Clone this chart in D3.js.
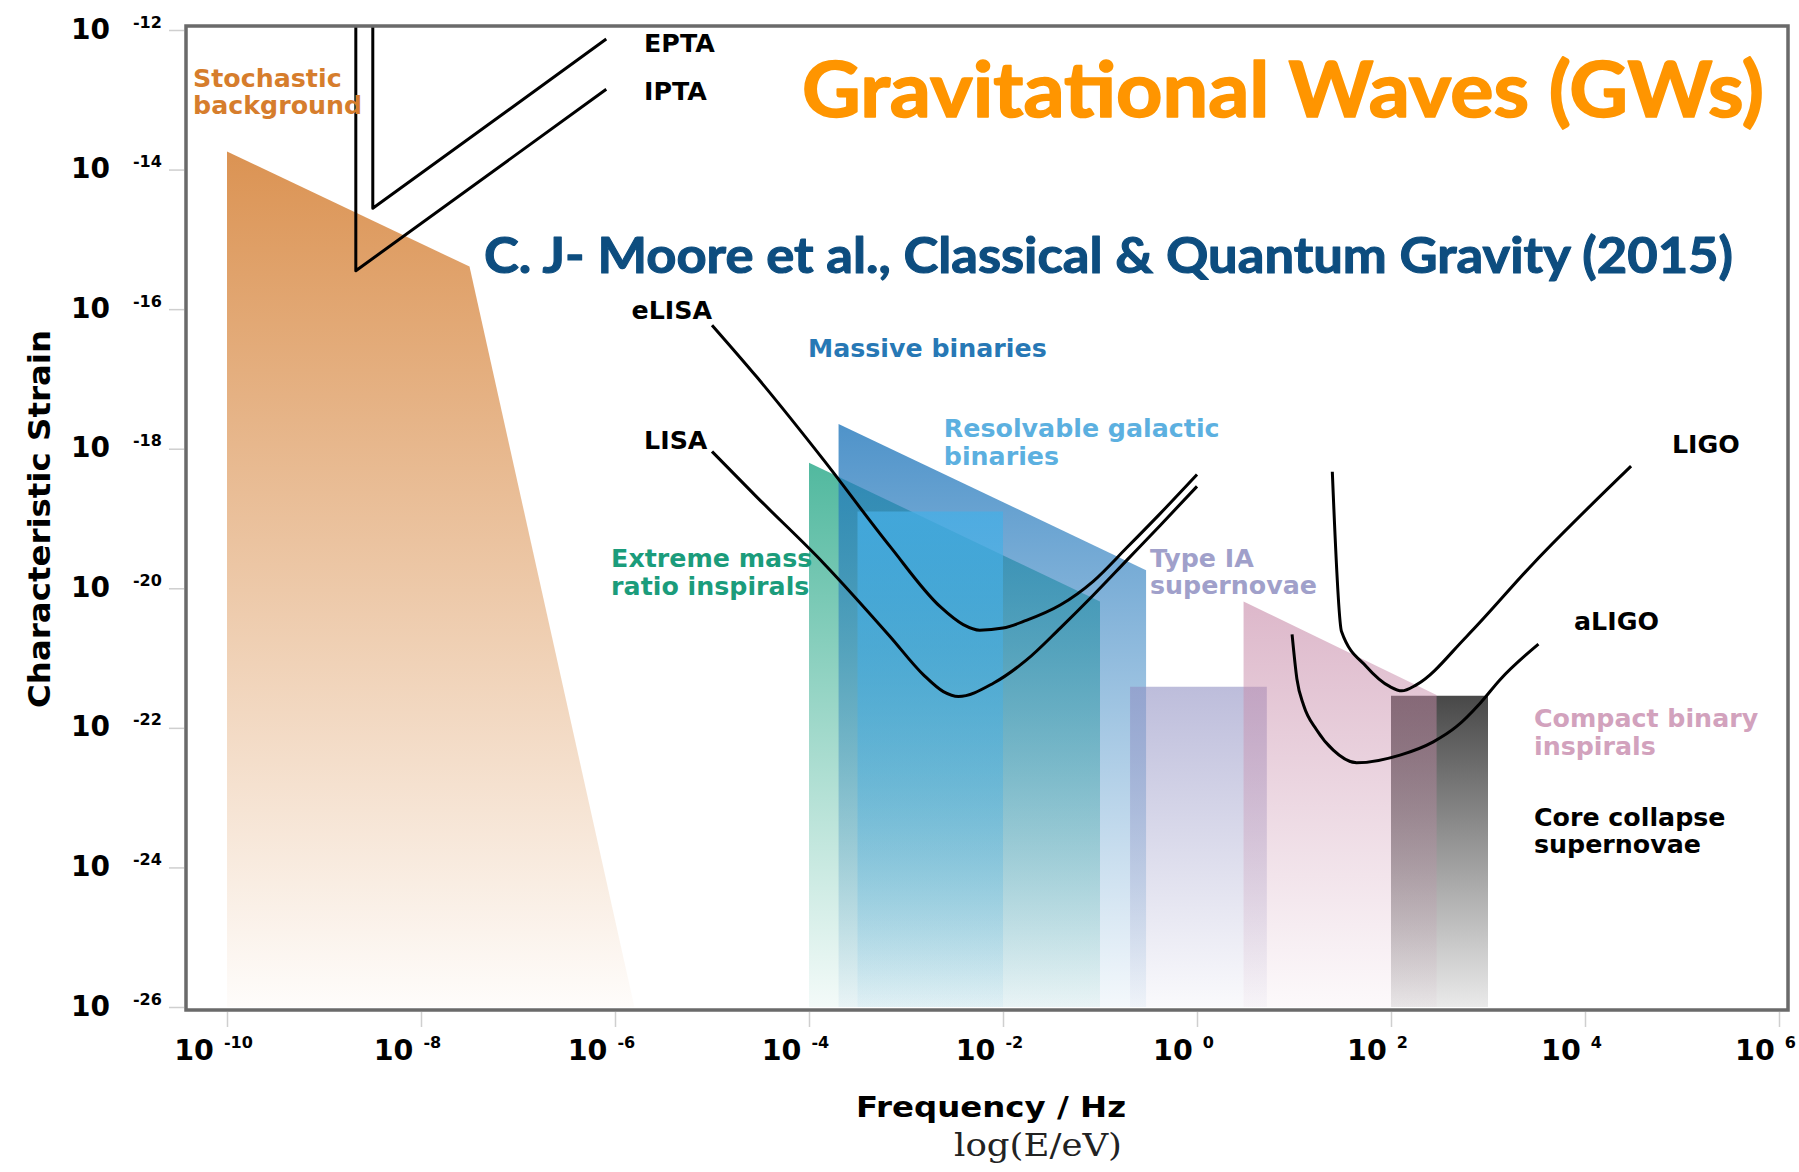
<!DOCTYPE html>
<html>
<head>
<meta charset="utf-8">
<script src="https://cdn.jsdelivr.net/npm/d3@7"></script>
<style>
  html, body { margin: 0; padding: 0; background: #ffffff; }
  svg { display: block; }
</style>
</head>
<body>
<svg id="chart" width="1799" height="1172"></svg>
<script>
// ---- axis ticks (log10 of frequency / strain) ----
const xTicks = [-10, -8, -6, -4, -2, 0, 2, 4, 6];
const yTicks = [-12, -14, -16, -18, -20, -22, -24, -26];
const xTickLabels = ["-10", "-8", "-6", "-4", "-2", "0", "2", "4", "6"];
const yTickLabels = ["-12", "-14", "-16", "-18", "-20", "-22", "-24", "-26"];

// ---- source regions: upper edge [log10 f, log10 h]; each is filled down to 10^-26 ----
const stochasticBackground = [[-10, -13.74], [-7.5, -15.39], [-5.8, -26]];
const extremeMassRatio     = [[-4.0, -18.2], [-1.0, -20.19]];
const massiveBinaries      = [[-3.695, -17.645], [-0.525, -19.74]];
const galacticBinaries     = [[-3.5, -18.9], [-2.0, -18.9]];
const typeIaSupernovae     = [[-0.69, -21.41], [0.72, -21.41]];
const coreCollapse         = [[2.0, -21.54], [3.0, -21.54]];
const compactBinaries      = [[0.48, -20.19], [2.47, -21.53]];

// ---- detector sensitivity curves [log10 f, log10 h] ----
const epta  = [[-8.497, -11.5], [-8.497, -14.555], [-6.09, -12.13]];
const ipta  = [[-8.672, -11.5], [-8.672, -15.45], [-6.09, -12.85]];
const elisa = [[-5.0, -16.23], [-4.54, -16.97], [-3.85, -18.16], [-3.165, -19.40],
               [-2.65, -20.26], [-2.41, -20.52], [-2.24, -20.60], [-2.0, -20.57],
               [-1.76, -20.46], [-1.41, -20.24], [-1.07, -19.90], [-0.725, -19.42],
               [-0.38, -18.93], [0.0, -18.37]];
const lisa  = [[-5.0, -18.04], [-4.54, -18.69], [-3.85, -19.64], [-3.165, -20.69],
               [-2.82, -21.24], [-2.615, -21.48], [-2.46, -21.55], [-2.10, -21.36],
               [-1.76, -21.03], [-1.41, -20.57], [-1.07, -20.10], [-0.725, -19.60],
               [-0.38, -19.10], [0.0, -18.54]];
const ligo  = [[1.395, -18.33], [1.49, -20.62], [1.745, -21.12], [1.99, -21.41],
               [2.11, -21.47], [2.265, -21.38], [2.78, -20.69], [3.47, -19.64],
               [4.475, -18.25]];
const aligo = [[0.98, -20.66], [1.03, -21.3], [1.10, -21.68], [1.234, -22.03],
               [1.405, -22.32], [1.645, -22.50], [2.093, -22.39], [2.436, -22.20],
               [2.677, -21.98], [2.917, -21.65], [3.124, -21.31], [3.52, -20.80]];

const floor = -26;

const svg = d3.select("#chart");
const W = 1799, H = 1172;
svg.append("rect").attr("width", W).attr("height", H).attr("fill", "#ffffff");

// scales
const X = d3.scaleLinear().domain([-10, 6]).range([227, 1779]);
const Y = d3.scaleLinear().domain([-26, -12]).range([1007, 30]);

// plot frame
const frame = { left: 186, top: 26, right: 1788, bottom: 1010 };

const defs = svg.append("defs");
defs.append("clipPath").attr("id", "plotClip")
  .append("rect")
  .attr("x", frame.left).attr("y", frame.top)
  .attr("width", frame.right - frame.left).attr("height", frame.bottom - frame.top);

function fade(id, color, top, bottom) {
  const g = defs.append("linearGradient").attr("id", id)
    .attr("x1", 0).attr("y1", 0).attr("x2", 0).attr("y2", 1);
  g.append("stop").attr("offset", 0).attr("stop-color", color).attr("stop-opacity", top);
  g.append("stop").attr("offset", 1).attr("stop-color", color).attr("stop-opacity", bottom);
  return `url(#${id})`;
}

const area = d3.area()
  .x(d => X(d[0]))
  .y0(Y(floor))
  .y1(d => Y(d[1]));

// drawing order matters: later regions tint the earlier ones
const regions = [
  { data: stochasticBackground, id: "gStoch",  color: "rgb(210,120,40)",  top: 0.80, bottom: 0.02 },
  { data: extremeMassRatio,     id: "gEmri",   color: "rgb(20,160,125)",  top: 0.74, bottom: 0.05 },
  { data: massiveBinaries,      id: "gMassive",color: "rgb(35,120,188)",  top: 0.80, bottom: 0.05 },
  { data: galacticBinaries,     id: "gGal",    color: "rgb(70,175,230)",  top: 0.75, bottom: 0.05 },
  { data: typeIaSupernovae,     id: "gTypeIa", color: "rgb(145,145,195)", top: 0.60, bottom: 0.05 },
  { data: coreCollapse,         id: "gCore",   color: "rgb(40,40,40)",    top: 0.85, bottom: 0.10 },
  { data: compactBinaries,      id: "gCbc",    color: "rgb(200,140,170)", top: 0.62, bottom: 0.05 }
];

const plot = svg.append("g").attr("clip-path", "url(#plotClip)");

plot.selectAll("path.region")
  .data(regions)
  .join("path")
  .attr("class", "region")
  .attr("d", r => area(r.data))
  .attr("fill", r => fade(r.id, r.color, r.top, r.bottom));

// sensitivity curves
const smooth = d3.line().x(d => X(d[0])).y(d => Y(d[1])).curve(d3.curveMonotoneX);
const straight = d3.line().x(d => X(d[0])).y(d => Y(d[1]));

const curves = [
  { data: epta,  gen: straight },
  { data: ipta,  gen: straight },
  { data: elisa, gen: smooth },
  { data: lisa,  gen: smooth },
  { data: ligo,  gen: smooth },
  { data: aligo, gen: smooth }
];
plot.selectAll("path.curve")
  .data(curves)
  .join("path")
  .attr("class", "curve")
  .attr("d", c => c.gen(c.data))
  .attr("fill", "none")
  .attr("stroke", "#000")
  .attr("stroke-width", 3)
  .attr("stroke-linejoin", "round");

// frame
svg.append("rect")
  .attr("x", frame.left).attr("y", frame.top)
  .attr("width", frame.right - frame.left).attr("height", frame.bottom - frame.top)
  .attr("fill", "none").attr("stroke", "#6a6a6a").attr("stroke-width", 3.5);

// axes: light tick marks outside the frame
const xAxis = svg.append("g")
  .attr("transform", `translate(0,${frame.bottom + 2})`)
  .call(d3.axisBottom(X).tickValues(xTicks).tickSize(15).tickFormat(""));
const yAxis = svg.append("g")
  .attr("transform", `translate(${frame.left - 2},0)`)
  .call(d3.axisLeft(Y).tickValues(yTicks).tickSize(15).tickFormat(""));
[xAxis, yAxis].forEach(a => {
  a.select(".domain").remove();
  a.selectAll(".tick line").attr("stroke", "#cfcfcf").attr("stroke-width", 1.5);
});

const tickFont = "'DejaVu Sans', Verdana, sans-serif";

// x tick labels: 10 with superscript exponent
xAxis.selectAll(".tick").each(function(d, i) {
  const t = d3.select(this).append("text")
    .attr("x", -14).attr("y", 1060 - frame.bottom - 2)
    .attr("text-anchor", "middle")
    .attr("fill", "#000")
    .style("font-family", tickFont).style("font-weight", "bold");
  t.append("tspan").style("font-size", "28.5px").text("10");
  t.append("tspan").attr("dx", 10).attr("dy", -12).style("font-size", "16px").text(xTickLabels[i]);
});

// y tick labels
yAxis.selectAll(".tick").each(function(d, i) {
  const t = d3.select(this).append("text")
    .attr("x", 71 - frame.left + 2).attr("y", 8)
    .attr("text-anchor", "start")
    .attr("fill", "#000")
    .style("font-family", tickFont).style("font-weight", "bold");
  t.append("tspan").style("font-size", "28px").text("10");
  t.append("tspan").attr("dx", 23).attr("dy", -11).style("font-size", "16px").text(yTickLabels[i]);
});

// axis titles
svg.append("text")
  .attr("transform", `translate(50,519) rotate(-90)`)
  .attr("text-anchor", "middle")
  .style("font-family", tickFont).style("font-weight", "bold").style("font-size", "30px")
  .attr("textLength", 378).attr("lengthAdjust", "spacingAndGlyphs")
  .text("Characteristic Strain");

svg.append("text")
  .attr("x", 991).attr("y", 1117)
  .attr("text-anchor", "middle")
  .style("font-family", tickFont).style("font-weight", "bold").style("font-size", "28px")
  .attr("textLength", 270).attr("lengthAdjust", "spacingAndGlyphs")
  .text("Frequency / Hz");

svg.append("text")
  .attr("x", 1038).attr("y", 1156)
  .attr("text-anchor", "middle")
  .attr("fill", "#222")
  .style("font-family", "'DejaVu Serif', 'Liberation Serif', serif").style("font-size", "32px")
  .attr("textLength", 168).attr("lengthAdjust", "spacingAndGlyphs")
  .text("log(E/eV)");

// region and detector annotations, placed in data coordinates
const labelFont = "'DejaVu Sans', Verdana, sans-serif";
const annotations = [
  { lines: ["Stochastic", "background"], at: [-10.35, -12.817], color: "#d67d2c", lh: 27 },
  { lines: ["EPTA"], at: [-5.70, -12.315], color: "#000" },
  { lines: ["IPTA"], at: [-5.70, -13.003], color: "#000" },
  { lines: ["eLISA"], at: [-5.83, -16.14], color: "#000" },
  { lines: ["LISA"], at: [-5.70, -18.0], color: "#000" },
  { lines: ["Massive binaries"], at: [-4.01, -16.685], color: "#2778b5" },
  { lines: ["Resolvable galactic", "binaries"], at: [-2.61, -17.83], color: "#5cb0e0", lh: 28 },
  { lines: ["Extreme mass", "ratio inspirals"], at: [-6.04, -19.69], color: "#1b9c7b", lh: 28 },
  { lines: ["Type IA", "supernovae"], at: [-0.485, -19.69], color: "#a0a0ca", lh: 27 },
  { lines: ["Compact binary", "inspirals"], at: [3.474, -21.99], color: "#d2a2bd", lh: 28 },
  { lines: ["Core collapse", "supernovae"], at: [3.474, -23.40], color: "#000", lh: 27 },
  { lines: ["LIGO"], at: [4.897, -18.06], color: "#000" },
  { lines: ["aLIGO"], at: [3.887, -20.60], color: "#000" }
];
const ann = svg.append("g").selectAll("text")
  .data(annotations)
  .join("text")
  .attr("x", d => X(d.at[0]))
  .attr("y", d => Y(d.at[1]))
  .attr("fill", d => d.color)
  .style("font-family", labelFont).style("font-weight", "bold").style("font-size", "25.3px");
ann.each(function(d) {
  const t = d3.select(this);
  d.lines.forEach((s, i) => {
    t.append("tspan").attr("x", X(d.at[0])).attr("dy", i === 0 ? 0 : d.lh).text(s);
  });
});

// headline and reference (a thin same-colour outline gives the heavier weight)
svg.append("text")
  .attr("x", 802).attr("y", 117)
  .attr("fill", "#ff9500").attr("stroke", "#ff9500").attr("stroke-width", 1.6)
  .attr("stroke-linejoin", "round")
  .style("font-family", "Lato, 'Open Sans', sans-serif").style("font-weight", "bold").style("font-size", "76px")
  .attr("textLength", 962).attr("lengthAdjust", "spacingAndGlyphs")
  .text("Gravitational Waves (GWs)");

svg.append("text")
  .attr("x", 484).attr("y", 273)
  .attr("fill", "#0d4d7f").attr("stroke", "#0d4d7f").attr("stroke-width", 1.1)
  .attr("stroke-linejoin", "round")
  .style("font-family", "Lato, 'Open Sans', sans-serif").style("font-weight", "bold").style("font-size", "49px")
  .attr("textLength", 1249).attr("lengthAdjust", "spacingAndGlyphs")
  .text("C. J- Moore et al., Classical & Quantum Gravity (2015)");
</script>
</body>
</html>
